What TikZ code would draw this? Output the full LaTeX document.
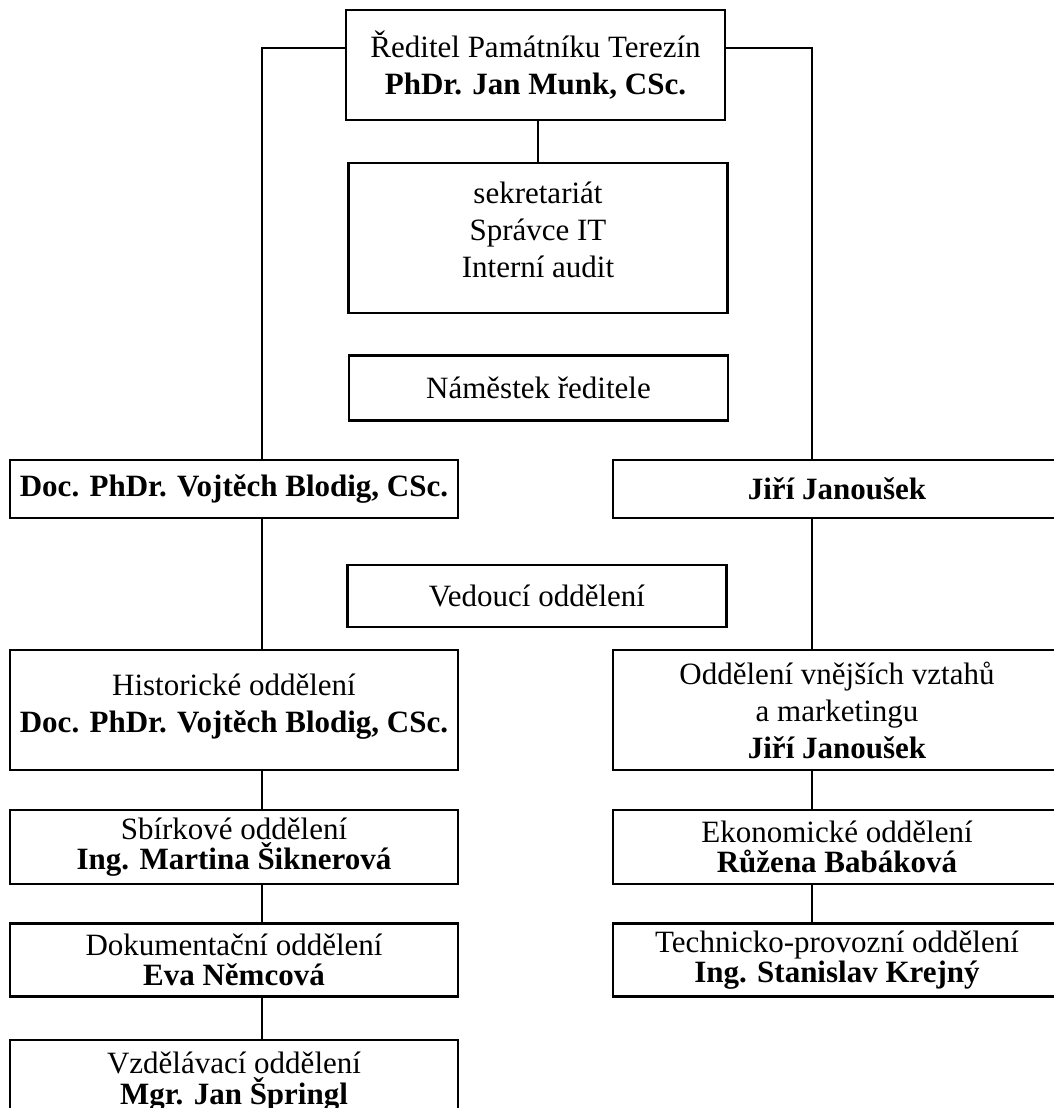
\documentclass[tikz,border=0pt]{standalone}
\usepackage{fontspec}
\setmainfont{Liberation Serif}
\usetikzlibrary{positioning}

\begin{document}
\begin{tikzpicture}[x=1pt, y=-1pt,
  unit/.style={rectangle, draw=black, line width=2.6pt, align=center, inner sep=0pt, font=\fontsize{31}{37}\selectfont},
  wide/.style={unit, minimum width=448pt},
  small/.style={wide, font=\fontsize{31}{30.5}\selectfont},
  mid/.style={unit, minimum width=379pt},
  line/.style={draw, line width=2.6pt, line join=miter}]
\useasboundingbox (0,0) rectangle (1054,1108);
% top of the chart
\node[mid, minimum height=110pt] (director) at (535.5,65) {Ředitel Památníku Terezín\\\textbf{PhDr. Jan Munk, CSc.}};
\node[mid, minimum height=150pt, text depth=17pt] (office) at (538,238) {sekretariát\\Správce IT\\Interní audit};
\node[mid, minimum height=65pt] (deputy) at (538.5,388) {Náměstek ředitele};
\node[wide, minimum height=58pt] (blodig) at (234,489) {\textbf{Doc. PhDr. Vojtěch Blodig, CSc.}};
\node[wide, minimum height=58pt] (janousek) at (837,489) {\textbf{Jiří Janoušek}};
\node[mid, minimum height=62pt] (heads) at (537,596) {Vedoucí oddělení};
% departments
\node[wide, minimum height=120pt, text depth=14pt] (hist) at (234,710) {Historické oddělení\\\textbf{Doc. PhDr. Vojtěch Blodig, CSc.}};
\node[wide, minimum height=120pt] (market) at (837,710) {Oddělení vnějších vztahů\\a marketingu\\\textbf{Jiří Janoušek}};
\node[small, minimum height=74pt] (sbirky) at (234,847) {Sbírkové oddělení\\\textbf{Ing. Martina Šiknerová}};
\node[small, minimum height=74pt] (econ) at (837,847) {Ekonomické oddělení\\\textbf{Růžena Babáková}};
\node[small, minimum height=73pt] (docum) at (234,960) {Dokumentační oddělení\\\textbf{Eva Němcová}};
\node[small, minimum height=73pt] (tech) at (837,960) {Technicko-provozní oddělení\\\textbf{Ing. Stanislav Krejný}};
\node[small, minimum height=84pt, text depth=8pt] (edu) at (234,1082) {Vzdělávací oddělení\\\textbf{Mgr. Jan Špringl}};
\coordinate (lspine) at (262,48);
\coordinate (rspine) at (812,48);
\begin{scope}[every path/.style=line]
\path (director.west |- lspine) -- (lspine) -- (lspine |- blodig.north);
\path (director.east |- rspine) -- (rspine) -- (rspine |- janousek.north);
\path (office.north |- director.south) -- (office.north);
\path (lspine |- blodig.south) -- (lspine |- hist.north);
\path (lspine |- hist.south) -- (lspine |- sbirky.north);
\path (lspine |- sbirky.south) -- (lspine |- docum.north);
\path (lspine |- docum.south) -- (lspine |- edu.north);
\path (rspine |- janousek.south) -- (rspine |- market.north);
\path (rspine |- market.south) -- (rspine |- econ.north);
\path (rspine |- econ.south) -- (rspine |- tech.north);
\end{scope}
\end{tikzpicture}
\end{document}
